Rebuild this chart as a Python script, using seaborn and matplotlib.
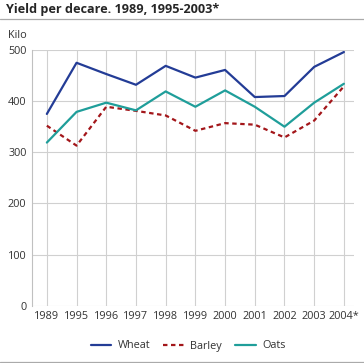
import pandas as pd
import matplotlib.pyplot as plt
import seaborn as sns
from matplotlib.lines import Line2D

years = ['1989', '1995', '1996', '1997', '1998', '1999', '2000', '2001', '2002', '2003', '2004*']
wheat = [375, 475, 453, 432, 469, 446, 461, 408, 410, 467, 496]
barley = [352, 313, 389, 381, 372, 342, 357, 354, 329, 362, 429]
oats = [319, 379, 397, 382, 419, 389, 421, 389, 350, 397, 434]

colors = {'Wheat': '#233c96', 'Barley': '#a3161a', 'Oats': '#1f9e9a'}

df = pd.DataFrame({'Year': years, 'Wheat': wheat, 'Barley': barley, 'Oats': oats})
long = df.melt(id_vars='Year', var_name='Crop', value_name='Kilo')
long['pos'] = long['Year'].map({y: i for i, y in enumerate(years)})

sns.set_style('white')
plt.rcParams['font.family'] = ['Open Sans', 'DejaVu Sans']

fig = plt.figure(figsize=(3.64, 3.63), dpi=100)
ax = fig.add_axes([32 / 364, 1 - 305.7 / 363, 322 / 364, 255.7 / 363])

sns.lineplot(data=long, x='pos', y='Kilo', hue='Crop', style='Crop',
             palette=colors, dashes={'Wheat': '', 'Barley': (2, 1.6), 'Oats': ''},
             linewidth=1.6, legend=False, ax=ax)

ax.set_xlim(-0.5, 10.34)
ax.set_ylim(0, 500)
ax.set_xticks(range(len(years)))
ax.set_xticklabels(years)
ax.set_yticks([0, 100, 200, 300, 400, 500])
ax.grid(True, color='#d0d0d0', linewidth=0.8)
ax.set_axisbelow(True)
for s in ['top', 'right', 'bottom']:
    ax.spines[s].set_visible(False)
ax.spines['left'].set_color('#c0c0c0')
ax.spines['left'].set_linewidth(0.8)
ax.tick_params(axis='both', length=0, labelsize=7.8, colors='#333333', pad=4)
ax.set_xlabel('')
ax.set_ylabel('')

fig.text(6 / 364, 1 - 9 / 363, 'Yield per decare. 1989, 1995-2003*', fontsize=9.1,
         fontweight='bold', va='center', ha='left')
fig.add_artist(Line2D([0, 1], [1 - 19 / 363, 1 - 19 / 363], color='#aaaaaa', linewidth=0.9))
fig.add_artist(Line2D([0, 1], [1 - 361.5 / 363, 1 - 361.5 / 363], color='#aaaaaa', linewidth=0.9))
fig.text(8 / 364, 1 - 35 / 363, 'Kilo', fontsize=7.8, va='center', ha='left', color='#333333')

handles = [Line2D([], [], color=colors['Wheat'], linewidth=1.6),
           Line2D([], [], color=colors['Barley'], linewidth=1.6, dashes=(2, 1.6)),
           Line2D([], [], color=colors['Oats'], linewidth=1.6)]
leg = fig.legend(handles, ['Wheat', 'Barley', 'Oats'], loc='center', bbox_to_anchor=(188 / 364, 1 - 346 / 363),
                 ncol=3, frameon=False, fontsize=7.8, handlelength=1.9, columnspacing=1.2, handletextpad=0.6)
for t in leg.get_texts():
    t.set_color('#333333')

fig.savefig('out.png', dpi=100)
